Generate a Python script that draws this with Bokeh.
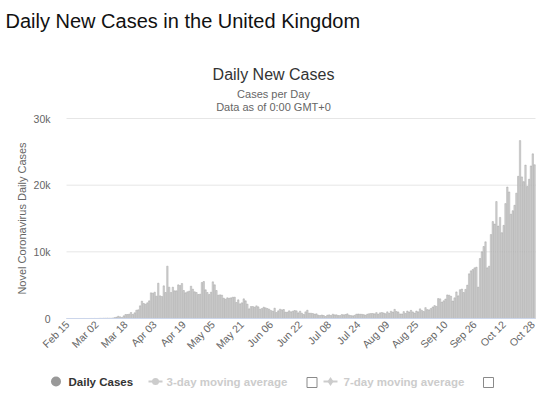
import datetime as dt
from bokeh.plotting import figure
from bokeh.models import FixedTicker, Label, Range1d, ColumnDataSource, LinearAxis
from bokeh.embed import file_html
from bokeh.resources import INLINE

# ---- data (daily new cases) ----
start_date = dt.date(2020, 2, 15)
feb = [0, 0, 0, 0, 0, 0, 0, 0, 0, 4, 0, 0, 2, 5, 3]
mar = [12, 4, 11, 34, 30, 48, 43, 67, 48, 52, 83, 134, 208, 342, 251,
       150, 400, 600, 600, 650, 900, 600, 850, 1250, 1300, 1900, 2600, 2250, 2150, 2350, 2650]
apr = [3850, 3800, 3950, 3350, 5300, 3400, 3300, 4900, 3900, 7850,
       4700, 3900, 4700, 4150, 4150, 5050, 4950, 5250, 4200, 3850,
       4000, 4100, 4850, 4400, 4000, 3900, 3600, 3650, 5400, 5550]
may = [4300, 3900, 3600, 3950, 5500, 5050, 4200, 3500, 3550, 3500,
       3050, 2900, 3100, 3050, 3100, 3200, 3200, 2400, 2800, 2200,
       2350, 2950, 2650, 2150, 1450, 1800, 1800, 1700, 1900, 1750, 1400]
jun = [1500, 1700, 1600, 1500, 1400, 1200, 1100, 1550, 900, 1150,
       1400, 1300, 1350, 950, 950, 1150, 1000, 1100, 1200, 1150,
       850, 1100, 800, 600, 1000, 1250, 800, 800, 750, 650]
jul = [700, 500, 450, 530, 450, 300, 500, 550, 450, 650,
       550, 550, 450, 450, 600, 550, 600, 700, 500, 450,
       400, 480, 650, 680, 650, 630, 580, 500, 650, 720, 750]
aug = [750, 700, 880, 650, 850, 900, 830, 720, 1000, 780,
       1090, 960, 1370, 1050, 990, 690, 680, 1035, 770, 1120,
       980, 1220, 990, 810, 1125, 995, 1445, 1210, 1050, 1630, 1335]
sep = [1295, 1508, 1735, 1940, 1813, 2988, 2948, 2460, 2659, 2919,
       3539, 3497, 3330, 2621, 3105, 3991, 3395, 4322, 4422, 3899,
       4368, 5000, 6700, 7150, 7350, 7600, 7700, 4700, 9000, 10000]
oct_ = [10800, 11500, 7600, 7850, 12594, 14542, 14162, 17540, 13864, 15166,
        12872, 13972, 17234, 19724, 18980, 15650, 16171, 16982, 18804, 21331,
        26688, 21242, 20530, 23012, 19790, 20890, 22885, 24701, 23065]
cases = feb + mar + apr + may + jun + jul + aug + sep + oct_
dates = [start_date + dt.timedelta(days=i) for i in range(len(cases))]
date_labels = [d.strftime("%b %d") for d in dates]

tick_labels = ["Feb 15", "Mar 02", "Mar 18", "Apr 03", "Apr 19", "May 05", "May 21",
               "Jun 06", "Jun 22", "Jul 08", "Jul 24", "Aug 09", "Aug 25", "Sep 10",
               "Sep 26", "Oct 12", "Oct 28"]
y_ticks = [0, 10000, 20000, 30000]
y_tick_labels = ["0", "10k", "20k", "30k"]

page_title = "Daily New Cases in the United Kingdom"
chart_title = "Daily New Cases"
subtitle1 = "Cases per Day"
subtitle2 = "Data as of 0:00 GMT+0"
y_title = "Novel Coronavirus Daily Cases"
legend_items = ["Daily Cases", "3-day moving average", "7-day moving average"]

FONT = "Liberation Sans"
W, H = 550, 395
# plot area in page pixels
PL, PR, PT, PB = 66, 535, 118, 318
N = len(cases)
X0, X1 = -0.5, N - 0.5
Y0, Y1 = 0, 30000
KX = (PR - PL) / (X1 - X0)          # px per category
KY = (PB - PT) / (Y1 - Y0)          # px per case
XS, XE = X0 - PL / KX, X1 + (W - PR) / KX
YS, YE = Y0 - (H - PB) / KY, Y1 + PT / KY


def gx(px):   # page x -> data x
    return XS + px / KX


def gy(py):   # page y -> data y
    return YE - py / KY


p = figure(width=W, height=H, output_backend="svg", toolbar_location=None,
           x_range=Range1d(XS, XE), y_range=Range1d(YS, YE),
           x_axis_location=None, y_axis_location=None,
           min_border_left=0, min_border_right=0, min_border_top=0, min_border_bottom=0)
p.grid.visible = False
p.outline_line_color = None
p.background_fill_color = "white"
p.border_fill_color = "white"

# grid lines at the y ticks (plot-area wide)
grid_y = y_ticks[1:]
p.segment(x0=[X0] * len(grid_y), x1=[X1] * len(grid_y), y0=grid_y, y1=grid_y,
          line_color="#e6e6e6", line_width=1)

src = ColumnDataSource(dict(x=list(range(N)), top=cases, d=date_labels))
p.vbar(x="x", top="top", width=0.8, source=src, fill_color="#d4d4d4",
       line_color="#8f8f8f", line_width=0.35)

# y axis
yax = LinearAxis(fixed_location=X0, ticker=FixedTicker(ticks=y_ticks), bounds=(Y0, Y1),
                 major_label_overrides={t: l for t, l in zip(y_ticks, y_tick_labels)})
yax.axis_line_color = None
yax.major_tick_line_color = None
yax.minor_tick_line_color = None
yax.major_tick_out = 0
yax.minor_tick_out = 0
yax.major_label_standoff = 16
yax.major_label_text_font = FONT
yax.major_label_text_font_size = "10.5px"
yax.major_label_text_color = "#666666"
yax.axis_label = y_title
yax.axis_label_text_font = FONT
yax.axis_label_text_font_size = "11px"
yax.axis_label_text_font_style = "normal"
yax.axis_label_text_color = "#666666"
yax.axis_label_standoff = 3
p.add_layout(yax, "left")

# x axis
tick_pos = [date_labels.index(l) for l in tick_labels]
xax = LinearAxis(fixed_location=0, ticker=FixedTicker(ticks=tick_pos), bounds=(X0, X1),
                 major_label_overrides={t: l for t, l in zip(tick_pos, tick_labels)})
xax.major_label_orientation = 0.785398
xax.axis_line_color = "#ccd6eb"
xax.major_tick_line_color = None
xax.minor_tick_line_color = None
xax.major_tick_out = 0
xax.minor_tick_out = 0
xax.major_label_standoff = 4
xax.major_label_text_font = FONT
xax.major_label_text_font_size = "10.5px"
xax.major_label_text_color = "#666666"
p.add_layout(xax, "below")


def lab(text, px, py, size, color, align="left", style="normal", base="alphabetic"):
    p.add_layout(Label(x=gx(px), y=gy(py), text=text, text_font=FONT, text_font_size=size,
                       text_color=color, text_align=align, text_font_style=style,
                       text_baseline=base))


# header
lab(page_title, 5, 20.5, "20px", "#111111")
lab(chart_title, 273, 74, "16px", "#333333", align="center")
lab(subtitle1, 273, 93, "11px", "#666666", align="center")
lab(subtitle2, 273, 106, "11px", "#666666", align="center")

# legend
LY = 381
p.scatter([gx(55.5)], [gy(LY)], size=10, marker="circle", fill_color="#999999", line_color=None)
lab(legend_items[0], 68, LY, "11.5px", "#333333", style="bold", base="middle")
sym_x = [148, 323]
txt_x = [166, 343]
box_x = [311.5, 488]
marks = ["circle", "diamond"]
for sx, tx, bx, mk, name in zip(sym_x, txt_x, box_x, marks, legend_items[1:]):
    p.segment([gx(sx)], [gy(LY)], [gx(sx + 14)], [gy(LY)], line_color="#cccccc", line_width=2)
    p.scatter([gx(sx + 7)], [gy(LY)], size=7 if mk == "circle" else 9, marker=mk,
              fill_color="#cccccc", line_color=None)
    lab(name, tx, LY, "11.5px", "#cccccc", style="bold", base="middle")
    p.scatter([gx(bx)], [gy(LY + 1)], size=10, marker="square", fill_color="white",
              line_color="#8a8a8a", line_width=1)

open("out.html", "w").write(file_html(p, INLINE))
